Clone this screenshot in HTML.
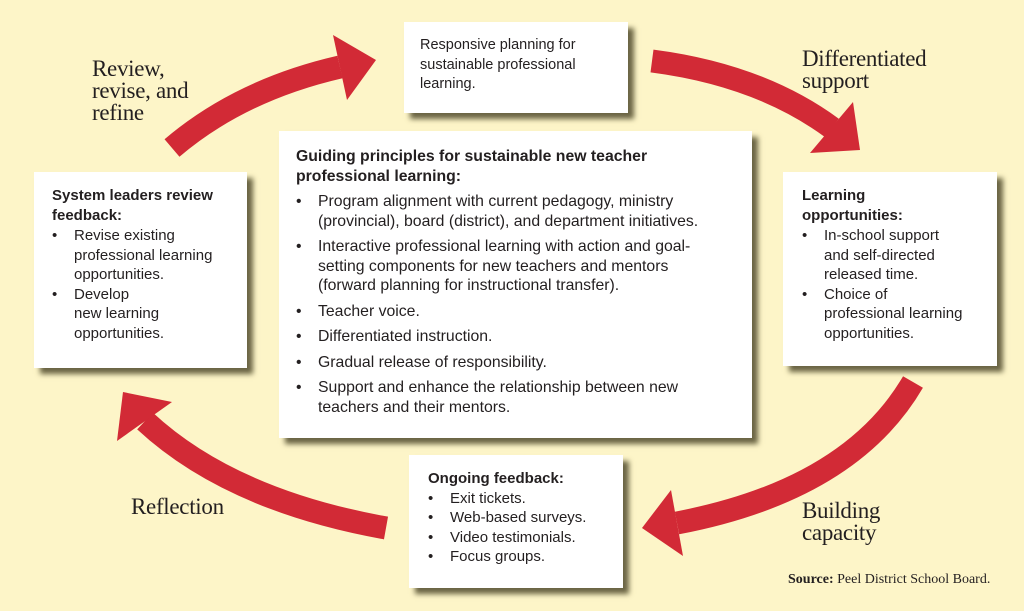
<!DOCTYPE html>
<html><head><meta charset="utf-8"><style>
body{margin:0;width:1024px;height:611px;background:#fdf5c8;position:relative;overflow:hidden;font-family:"Liberation Sans",sans-serif;color:#231f20}
.box{position:absolute;background:#fff;box-shadow:6px 6px 5px #6b6544;box-sizing:border-box;font-size:15px;line-height:19.5px;white-space:nowrap}
.box b{display:block}
ul{margin:0;padding:0;list-style:none}
li{position:relative;padding-left:22px;margin-top:6px}
li:before{content:"•";position:absolute;left:0}
.lab{position:absolute;font-family:"Liberation Serif",serif;font-size:23px;line-height:22px;color:#231f20;letter-spacing:-0.3px}
svg{position:absolute;left:0;top:0}
</style></head><body>
<svg width="1024" height="611">
<g fill="none" stroke="#d22a36" stroke-width="23">
<path d="M172,148 Q240,90 340,67"/>
<path d="M652,61 Q760,75 832,128"/>
<path d="M913,382 Q850,490 677,523"/>
<path d="M386,528 Q230,500 145,421"/>
</g>
<g fill="#d22a36">
<polygon points="333,35 376,60 347,100"/>
<polygon points="853,102 860,150 810,153"/>
<polygon points="671,490 642,528 683,556"/>
<polygon points="172,402 123,392 117,441"/>
</g>
</svg>
<div class="box" style="left:404px;top:22px;width:224px;height:91px;padding:14px 16px;font-size:14.5px">Responsive planning for<br>sustainable professional<br>learning.</div>
<div class="box" style="left:279px;top:131px;width:473px;height:307px;padding:16px 16px 0 17px;font-size:15.8px"><b>Guiding principles for sustainable new teacher<br>professional learning:</b>
<ul style="margin-top:5px"><li>Program alignment with current pedagogy, ministry<br>(provincial), board (district), and department initiatives.</li>
<li>Interactive professional learning with action and goal-<br>setting components for new teachers and mentors<br>(forward planning for instructional transfer).</li>
<li>Teacher voice.</li><li>Differentiated instruction.</li><li>Gradual release of responsibility.</li>
<li>Support and enhance the relationship between new<br>teachers and their mentors.</li></ul></div>
<div class="box" style="left:34px;top:172px;width:213px;height:196px;padding:14px 10px 0 18px"><b>System leaders review<br>feedback:</b>
<ul style="margin-top:0"><li style="margin-top:1px">Revise existing<br>professional learning<br>opportunities.</li><li style="margin-top:0">Develop<br>new learning<br>opportunities.</li></ul></div>
<div class="box" style="left:783px;top:172px;width:214px;height:194px;padding:14px 10px 0 19px"><b>Learning<br>opportunities:</b>
<ul><li style="margin-top:1px">In-school support<br>and self-directed<br>released time.</li><li style="margin-top:0">Choice of<br>professional learning<br>opportunities.</li></ul></div>
<div class="box" style="left:409px;top:455px;width:214px;height:133px;padding:14px 10px 0 19px"><b>Ongoing feedback:</b>
<ul><li style="margin:0">Exit tickets.</li><li style="margin:0">Web-based surveys.</li><li style="margin:0">Video testimonials.</li><li style="margin:0">Focus groups.</li></ul></div>
<div class="lab" style="left:92px;top:58px">Review,<br>revise, and<br>refine</div>
<div class="lab" style="left:802px;top:48px">Differentiated<br>support</div>
<div class="lab" style="left:802px;top:500px">Building<br>capacity</div>
<div class="lab" style="left:131px;top:496px">Reflection</div>
<div style="position:absolute;left:788px;top:572px;font-family:'Liberation Serif',serif;font-size:14px"><b>Source:</b> Peel District School Board.</div>
</body></html>
